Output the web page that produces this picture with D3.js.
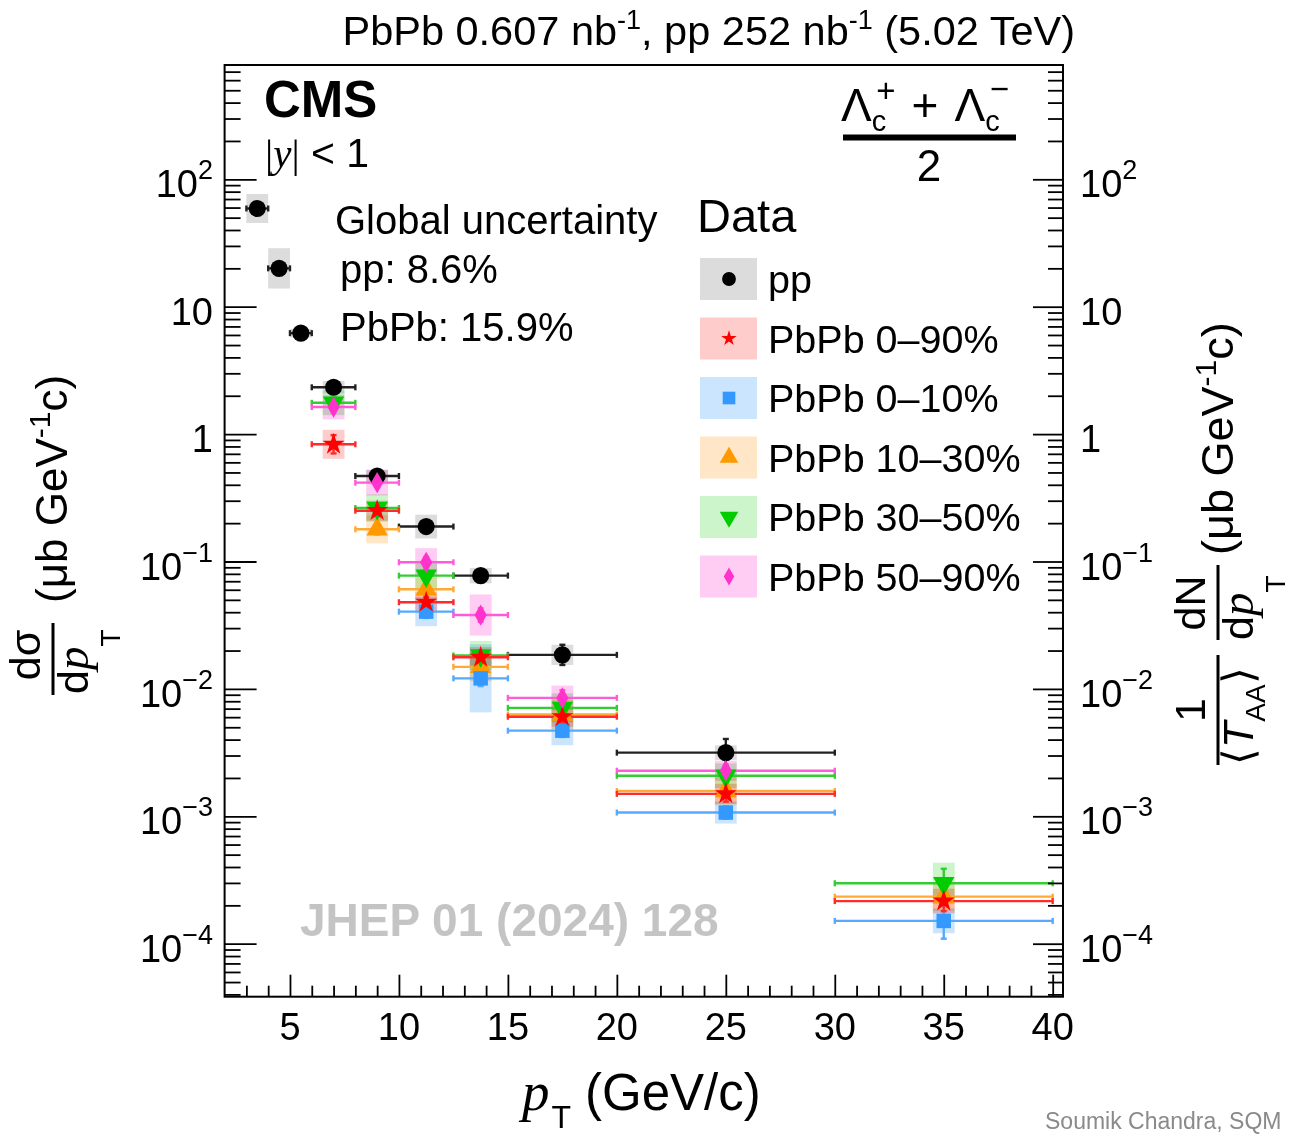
<!DOCTYPE html>
<html><head><meta charset="utf-8">
<script src="https://cdn.jsdelivr.net/npm/d3@7"></script>
<style>
body{margin:0;background:#fff}
svg{display:block}
text{font-family:"Liberation Sans",Arial,sans-serif;fill:#000}
</style></head>
<body><svg id="c" width="1291" height="1136"></svg>
<script>
// ---------- data ----------
const ptBins = [[3,4],[4,5],[5,6],[6,8],[8,10],[10,12.5],[12.5,15],[15,20],[20,30],[30,40]];

const ppIdx  = [0,1,2,3,4,5,6,7,8];
const ppVal  = [59, 20, 6.2, 2.33, 0.469, 0.188, 0.0775, 0.0185, 0.00316];
const ppStat = [1.08,1.05,1.05,1.05,1.06,1.08,1.1,1.2,1.28];
const ppSys  = [1.3,1.44,1.08,1.12,1.12,1.24,1.15,1.2,1.14];

const c090Idx  = [3,4,5,6,7,8,9];
const c090Val  = [0.832,0.2505,0.0479,0.0177,0.00605,0.0015,0.000216];
const c090Stat = [1.18,1.1,1.1,1.1,1.12,1.15,1.2];
const c090Sys  = [1.3,1.2,1.2,1.2,1.2,1.2,1.25];

const c010Idx  = [5,6,7,8,9];
const c010Val  = [0.0404,0.0121,0.0047,0.00107,0.000151];
const c010Stat = [1.12,1.15,1.12,1.12,1.38];
const c010Sys  = [1.3,1.85,1.3,1.22,1.25];

const c1030Idx  = [4,5,6,7,8,9];
const c1030Val  = [0.179,0.0605,0.0149,0.0063,0.00158,0.000234];
const c1030Stat = [1.1,1.1,1.12,1.12,1.15,1.25];
const c1030Sys  = [1.29,1.25,1.3,1.3,1.3,1.3];

const c3050Idx  = [3,4,5,6,7,8,9];
const c3050Val  = [1.76,0.263,0.0774,0.0183,0.0071,0.00208,0.000298];
const c3050Stat = [1.1,1.08,1.1,1.1,1.12,1.12,1.3];
const c3050Sys  = [1.25,1.28,1.25,1.3,1.3,1.25,1.45];

const c5090Idx  = [3,4,5,6,7,8];
const c5090Val  = [1.63,0.416,0.0986,0.038,0.0085,0.00228];
const c5090Stat = [1.1,1.08,1.1,1.13,1.15,1.12];
const c5090Sys  = [1.25,1.26,1.29,1.45,1.25,1.2];

const legendNames = ["pp","PbPb 0\u201390%","PbPb 0\u201310%","PbPb 10\u201330%","PbPb 30\u201350%","PbPb 50\u201390%"];
const xTickLabels = [5,10,15,20,25,30,35,40];
const yTickExps = [-4,-3,-2,-1,0,1,2];

// ---------- styles ----------
const series = [
  {name:legendNames[0], idx:ppIdx, val:ppVal, stat:ppStat, sys:ppSys, sym:d3.symbolCircle, size:230, lsize:150, rot:0, mc:"#000", lc:"#222", bc:"#dcdcdc"},
  {name:legendNames[1], idx:c090Idx, val:c090Val, stat:c090Stat, sys:c090Sys, sym:d3.symbolStar, size:150, lsize:75, rot:0, mc:"#ff0000", lc:"#ff2a2a", bc:"#ffcccc"},
  {name:legendNames[2], idx:c010Idx, val:c010Val, stat:c010Stat, sys:c010Sys, sym:d3.symbolSquare, size:210, lsize:160, rot:0, mc:"#3399ff", lc:"#55aaff", bc:"#cce5ff"},
  {name:legendNames[3], idx:c1030Idx, val:c1030Val, stat:c1030Stat, sys:c1030Sys, sym:d3.symbolTriangle, size:200, lsize:150, rot:0, mc:"#ff9900", lc:"#ffaa33", bc:"#ffe6c6"},
  {name:legendNames[4], idx:c3050Idx, val:c3050Val, stat:c3050Stat, sys:c3050Sys, sym:d3.symbolTriangle, size:200, lsize:150, rot:180, mc:"#00cc00", lc:"#33cc33", bc:"#ccf5cc"},
  {name:legendNames[5], idx:c5090Idx, val:c5090Val, stat:c5090Stat, sys:c5090Sys, sym:d3.symbolDiamond, size:130, lsize:95, rot:0, mc:"#ff33cc", lc:"#ff5ad8", bc:"#ffccf3"}
];
const drawOrder = [0,3,2,4,1,5];

const svg = d3.select("#c");
const FL=224.6, FR=1063, FT=65, FB=996.7;
const x = d3.scaleLinear().domain([2,40]).range([224.6,1052.7]);
const y = d3.scaleLog().domain([1e-4,100]).range([943.7,179.3]);

// ---------- boxes ----------
const gBox = svg.append("g");
drawOrder.forEach(si=>{
  const s = series[si];
  s.idx.forEach((bi,i)=>{
    const c=(ptBins[bi][0]+ptBins[bi][1])/2, v=s.val[i];
    gBox.append("rect")
      .attr("x",x(c-0.5)).attr("width",x(c+0.5)-x(c-0.5))
      .attr("y",y(v*s.sys[i])).attr("height",y(v/s.sys[i])-y(v*s.sys[i]))
      .attr("fill",s.bc).style("mix-blend-mode","multiply");
  });
});

// ---------- error bars ----------
const gErr = svg.append("g");
drawOrder.forEach(si=>{
  const s = series[si];
  s.idx.forEach((bi,i)=>{
    const lo=ptBins[bi][0], hi=ptBins[bi][1], c=(lo+hi)/2, v=s.val[i];
    const cy=y(v), cx=x(c);
    const ln=(x1,y1,x2,y2)=>gErr.append("line").attr("x1",x1).attr("y1",y1).attr("x2",x2).attr("y2",y2).attr("stroke",s.lc).attr("stroke-width",2.4);
    ln(x(lo),cy,x(hi),cy);
    ln(x(lo),cy-3,x(lo),cy+3);
    ln(x(hi),cy-3,x(hi),cy+3);
    const yt=y(v*s.stat[i]), yb=y(v/s.stat[i]);
    ln(cx,yt,cx,yb);
    ln(cx-3,yt,cx+3,yt);
    ln(cx-3,yb,cx+3,yb);
  });
});

// ---------- markers ----------
const gMk = svg.append("g");
drawOrder.forEach(si=>{
  const s = series[si];
  s.idx.forEach((bi,i)=>{
    const c=(ptBins[bi][0]+ptBins[bi][1])/2;
    gMk.append("path").attr("d",d3.symbol(s.sym,s.size)())
      .attr("transform",`translate(${x(c)},${y(s.val[i])}) rotate(${s.rot})`)
      .attr("fill",s.mc);
  });
});

// ---------- axes ----------
const majorY = yTickExps.map(e=>Math.pow(10,e));
const minorY = [];
for(let e=-5;e<=3;e++) for(let k=2;k<=9;k++){const v=k*Math.pow(10,e); if(y(v)>FT+1 && y(v)<FB-1) minorY.push(v);}
const styleAxis = g=>{g.select(".domain").remove(); g.selectAll("line").attr("stroke","#000").attr("stroke-width",1.8);};
svg.append("g").attr("transform",`translate(${FL},0)`).call(d3.axisLeft(y).tickValues(majorY).tickSize(-32).tickFormat("")).call(styleAxis);
svg.append("g").attr("transform",`translate(${FL},0)`).call(d3.axisLeft(y).tickValues(minorY).tickSize(-16).tickFormat("")).call(styleAxis);
svg.append("g").attr("transform",`translate(${FR},0)`).call(d3.axisRight(y).tickValues(majorY).tickSize(-30).tickFormat("")).call(styleAxis);
svg.append("g").attr("transform",`translate(${FR},0)`).call(d3.axisRight(y).tickValues(minorY).tickSize(-15).tickFormat("")).call(styleAxis);
const minorX = d3.range(3,41).filter(v=>v%5!==0);
svg.append("g").attr("transform",`translate(0,${FB})`).call(d3.axisBottom(x).tickValues(xTickLabels).tickSize(-22).tickFormat("")).call(styleAxis);
svg.append("g").attr("transform",`translate(0,${FB})`).call(d3.axisBottom(x).tickValues(minorX).tickSize(-11).tickFormat("")).call(styleAxis);
svg.append("rect").attr("x",FL).attr("y",FT).attr("width",FR-FL).attr("height",FB-FT).attr("fill","none").attr("stroke","#000").attr("stroke-width",2);

// tick labels
xTickLabels.forEach(v=>{
  svg.append("text").attr("x",x(v)).attr("y",1040).attr("text-anchor","middle").attr("font-size",38).text(v);
});
function yLabel(e, xp, anchor){
  const t=svg.append("text").attr("x",xp).attr("y",y(Math.pow(10,e))+18).attr("text-anchor",anchor).attr("font-size",38);
  if(e===0) t.text("1");
  else if(e===1) t.text("10");
  else {
    t.append("tspan").text("10");
    t.append("tspan").attr("font-size",27).attr("dy",-18).text(e<0?"\u2212"+(-e):String(e));
  }
}
yTickExps.forEach(e=>{yLabel(e,213,"end"); yLabel(e,1080,"start");});

// ---------- titles/texts ----------
const title = svg.append("text").attr("x",1075).attr("y",45).attr("text-anchor","end").attr("font-size",41.5);
title.append("tspan").text("PbPb 0.607 nb");
title.append("tspan").attr("font-size",27).attr("dy",-16).text("-1");
title.append("tspan").attr("dy",16).text(", pp 252 nb");
title.append("tspan").attr("font-size",27).attr("dy",-16).text("-1");
title.append("tspan").attr("dy",16).text(" (5.02 TeV)");

svg.append("text").attr("x",264).attr("y",117).attr("font-size",51).attr("font-weight","bold").text("CMS");
const rap = svg.append("text").attr("x",265).attr("y",167).attr("font-size",41);
rap.append("tspan").attr("font-family","'Liberation Serif',serif").text("|");
rap.append("tspan").attr("font-family","'Liberation Serif',serif").attr("font-style","italic").text("y");
rap.append("tspan").attr("font-family","'Liberation Serif',serif").text("|");
rap.append("tspan").text(" < 1");

svg.append("text").attr("x",335).attr("y",234).attr("font-size",40).text("Global uncertainty");
svg.append("text").attr("x",340).attr("y",283).attr("font-size",40).text("pp: 8.6%");
svg.append("text").attr("x",340).attr("y",341).attr("font-size",40).text("PbPb: 15.9%");

svg.append("text").attr("x",697).attr("y",232).attr("font-size",47).text("Data");

// legend
series.forEach((s,i)=>{
  const cy = 279 + i*59.5;
  svg.append("rect").attr("x",700).attr("y",cy-21).attr("width",57).attr("height",42).attr("fill",s.bc);
  svg.append("path").attr("d",d3.symbol(s.sym,s.lsize)()).attr("transform",`translate(729,${cy}) rotate(${s.rot})`).attr("fill",s.mc);
  svg.append("text").attr("x",768).attr("y",cy+14).attr("font-size",39.5).text(s.name);
});

// formula
const serif="'Liberation Serif','Times New Roman',serif";
const lam1 = svg.append("text").attr("x",841).attr("y",121).attr("font-size",46).attr("font-family",serif);
lam1.append("tspan").text("\u039b");
lam1.append("tspan").attr("font-size",29).attr("dy",10).text("c");
lam1.append("tspan").attr("font-size",33).attr("dx",-10).attr("dy",-29).text("+");
lam1.append("tspan").attr("font-size",46).attr("dx",16).attr("dy",19).text("+");
lam1.append("tspan").attr("dx",16).text("\u039b");
lam1.append("tspan").attr("font-size",29).attr("dy",10).text("c");
lam1.append("tspan").attr("font-size",33).attr("dx",-10).attr("dy",-31).text("\u2212");
svg.append("rect").attr("x",843).attr("y",134.5).attr("width",173).attr("height",6).attr("fill","#000");
svg.append("text").attr("x",929).attr("y",181).attr("text-anchor","middle").attr("font-size",44).attr("font-family",serif).text("2");

// watermark
svg.append("text").attr("x",300).attr("y",936).attr("font-size",46).attr("font-weight","bold")
  .attr("font-family","'Open Sans',sans-serif").style("fill","#c4c4c4").text("JHEP 01 (2024) 128");

// footer
svg.append("text").attr("x",1045).attr("y",1129).attr("font-size",23).style("fill","#8a8a8a").text("Soumik Chandra, SQM");

// x label
const xl = svg.append("text").attr("x",522).attr("y",1110).attr("font-size",51);
xl.append("tspan").attr("font-family",serif).attr("font-style","italic").attr("font-size",55).text("p");
xl.append("tspan").attr("font-size",32).attr("dy",18).attr("dx",2).text("T");
xl.append("tspan").attr("dy",-18).attr("dx",14).text("(GeV/c)");

// left y label (rotated)
const gl = svg.append("g").attr("transform","rotate(-90)");
gl.append("text").attr("x",-655).attr("y",40).attr("text-anchor","middle").attr("font-size",43).text("d\u03c3");
gl.append("line").attr("x1",-695).attr("x2",-623).attr("y1",53).attr("y2",53).attr("stroke","#000").attr("stroke-width",3);
const dl = gl.append("text").attr("x",-694).attr("y",88).attr("font-size",43);
dl.append("tspan").text("d");
dl.append("tspan").attr("font-family",serif).attr("font-style","italic").attr("font-size",47).text("p");
dl.append("tspan").attr("font-size",28).attr("dy",32).text("T");
const ul = gl.append("text").attr("x",-603).attr("y",67).attr("font-size",44);
ul.append("tspan").text("(\u03bcb GeV");
ul.append("tspan").attr("font-size",30).attr("dy",-17).text("-1");
ul.append("tspan").attr("dy",17).text("c)");

// right y label (rotated)
const gr = svg.append("g").attr("transform","rotate(-90)");
gr.append("text").attr("x",-710).attr("y",1205).attr("text-anchor","middle").attr("font-size",43).text("1");
gr.append("line").attr("x1",-765).attr("x2",-655).attr("y1",1218).attr("y2",1218).attr("stroke","#000").attr("stroke-width",3);
const ta = gr.append("text").attr("x",-765).attr("y",1253).attr("font-size",43).attr("font-family",serif);
ta.append("tspan").text("\u27e8");
ta.append("tspan").attr("font-style","italic").text("T");
ta.append("tspan").attr("font-family","'Liberation Sans',Arial,sans-serif").attr("font-size",28).attr("dy",12).text("AA");
ta.append("tspan").attr("dy",-12).text("\u27e9");
gr.append("text").attr("x",-603).attr("y",1205).attr("text-anchor","middle").attr("font-size",43).text("dN");
gr.append("line").attr("x1",-640).attr("x2",-565).attr("y1",1218).attr("y2",1218).attr("stroke","#000").attr("stroke-width",3);
const dr = gr.append("text").attr("x",-640).attr("y",1253).attr("font-size",43);
dr.append("tspan").text("d");
dr.append("tspan").attr("font-family",serif).attr("font-style","italic").attr("font-size",47).text("p");
dr.append("tspan").attr("font-size",28).attr("dy",32).text("T");
const ur = gr.append("text").attr("x",-555).attr("y",1233).attr("font-size",45);
ur.append("tspan").text("(\u03bcb GeV");
ur.append("tspan").attr("font-size",30).attr("dy",-17).text("-1");
ur.append("tspan").attr("dy",17).text("c)");
</script>
</body></html>
